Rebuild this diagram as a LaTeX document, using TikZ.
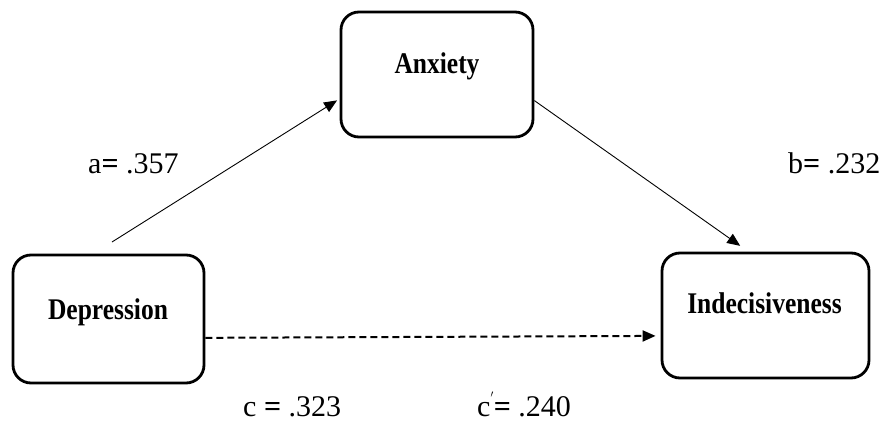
\documentclass[tikz,border=0pt]{standalone}
\usepackage{fontspec}
\setmainfont{Liberation Serif}
\newfontfamily\boxfont[FakeStretch=0.85]{Liberation Serif}
\usetikzlibrary{arrows.meta}
\begin{document}
\begin{tikzpicture}[x=1pt,y=-1pt,
  varbox/.style={draw, line width=2.8pt, rounded corners=18pt, inner sep=0pt, fill=white},
  boxtext/.style={anchor=base, inner sep=0pt, font=\boxfont\fontsize{30}{30}\selectfont\bfseries},
  coef/.style={anchor=base west, inner sep=0pt, font=\fontsize{30}{30}\selectfont},
  path/.style={line width=0.9pt, -{Triangle[length=13pt,width=11pt]}},
  dpath/.style={line width=2pt, dash pattern=on 7pt off 4pt, -{Triangle[length=13pt,width=11pt]}}
]
\useasboundingbox (0,0) rectangle (884,423);
% boxes
\node[varbox, minimum width=192pt, minimum height=125pt] (anx) at (437,74.5) {};
\node[varbox, minimum width=191pt, minimum height=128pt] (dep) at (108.5,319) {};
\node[varbox, minimum width=207pt, minimum height=125pt] (ind) at (765.5,315.5) {};
% box texts
\node[boxtext] (anxT) at (437,73) {Anxiety};
\node[boxtext] (depT) at (108,319) {Depression};
\node[boxtext] (indT) at (764.5,313) {Indecisiveness};
% connectors
\coordinate (aStart) at (112,242);
\draw[path, shorten >=3pt] (aStart) -- (anx.194);
\draw[path, shorten >=10pt] (anx.-15) -- (ind.105);
\draw[dpath, shorten >=5pt] (dep.-11) -- (ind.191);
% coefficients
\node[coef] (la) at (88,173) {a\textbf{=} .357};
\node[coef] (lb) at (788,173) {b\textbf{=} .232};
\node[coef] (lc) at (243,416) {c \textbf{=} .323};
\node[coef] (lcp) at (477,416) {c\raisebox{0.45em}{\fontsize{14}{14}\selectfont$'$}\textbf{=} .240};
\end{tikzpicture}
\end{document}
